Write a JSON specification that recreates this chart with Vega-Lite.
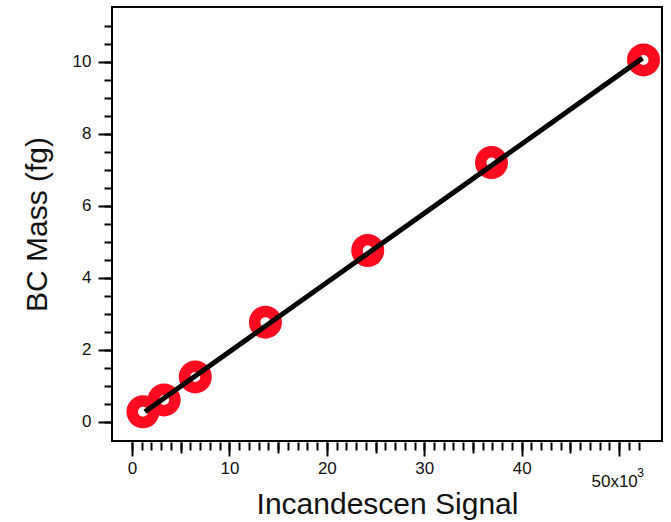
{
  "$schema": "https://vega.github.io/schema/vega-lite/v6.json",
  "width": 550,
  "height": 434,
  "autosize": "none",
  "padding": {"left": 112, "top": 7, "right": 9, "bottom": 81},
  "background": "white",
  "config": {
    "view": {"stroke": "black", "strokeWidth": 2},
    "font": "Liberation Sans",
    "axis": {
      "grid": false,
      "domain": false,
      "tickColor": "black",
      "tickWidth": 2,
      "labelColor": "#111111",
      "labelFont": "Liberation Sans",
      "labelFontSize": 17,
      "titleFont": "Liberation Sans",
      "titleFontSize": 30,
      "titleFontWeight": "normal",
      "titleColor": "#111111"
    }
  },
  "datasets": {
    "points": [
      {"signal": 1130, "mass": 0.28},
      {"signal": 3300, "mass": 0.61},
      {"signal": 6500, "mass": 1.25},
      {"signal": 13700, "mass": 2.77},
      {"signal": 24200, "mass": 4.76},
      {"signal": 36900, "mass": 7.2},
      {"signal": 52500, "mass": 10.05}
    ],
    "fit": [
      {"signal": 1330, "mass": 0.28},
      {"signal": 52400, "mass": 10.1}
    ]
  },
  "resolve": {"axis": {"x": "independent", "y": "independent"}},
  "layer": [
    {
      "data": {"name": "points"},
      "mark": {"type": "point", "shape": "circle", "size": 462, "strokeWidth": 11.5, "color": "#ff0a1e", "filled": false, "opacity": 1},
      "encoding": {
        "x": {
          "field": "signal", "type": "quantitative",
          "scale": {"domain": [-2050, 54400], "nice": false, "zero": false},
          "axis": {
            "orient": "bottom",
            "title": "Incandescen Signal",
            "values": [0, 10000, 20000, 30000, 40000],
            "labelExpr": "format(datum.value / 1000, 'd')",
            "tickSize": 14,
            "offset": 1,
            "labelPadding": 4,
            "titlePadding": 13
          }
        },
        "y": {
          "field": "mass", "type": "quantitative",
          "scale": {"domain": [-0.53, 11.52], "nice": false, "zero": false},
          "axis": {
            "orient": "left",
            "title": "BC Mass (fg)",
            "values": [0, 2, 4, 6, 8, 10],
            "tickSize": 14,
            "labelPadding": 7,
            "titlePadding": 20
          }
        }
      }
    },
    {
      "data": {"name": "fit"},
      "mark": {"type": "line", "color": "black", "strokeWidth": 5, "strokeCap": "butt"},
      "encoding": {
        "x": {
          "field": "signal", "type": "quantitative",
          "axis": {
            "orient": "bottom",
            "title": null,
            "labels": false,
            "values": [5000, 15000, 25000, 35000, 45000],
            "tickSize": 11,
            "offset": 1
          }
        },
        "y": {
          "field": "mass", "type": "quantitative",
          "axis": {
            "orient": "left",
            "title": null,
            "labels": false,
            "values": [0, 0.5, 1, 1.5, 2, 2.5, 3, 3.5, 4, 4.5, 5, 5.5, 6, 6.5, 7, 7.5, 8, 8.5, 9, 9.5, 10, 10.5, 11],
            "tickSize": 8
          }
        }
      }
    },
    {
      "data": {"name": "fit"},
      "mark": {"type": "point", "opacity": 0},
      "encoding": {
        "x": {
          "field": "signal", "type": "quantitative",
          "axis": {
            "orient": "bottom",
            "title": null,
            "labels": false,
            "values": [0, 1000, 2000, 3000, 4000, 5000, 6000, 7000, 8000, 9000, 10000, 11000, 12000, 13000, 14000, 15000, 16000, 17000, 18000, 19000, 20000, 21000, 22000, 23000, 24000, 25000, 26000, 27000, 28000, 29000, 30000, 31000, 32000, 33000, 34000, 35000, 36000, 37000, 38000, 39000, 40000, 41000, 42000, 43000, 44000, 45000, 46000, 47000, 48000, 49000, 50000, 51000, 52000],
            "tickSize": 8,
            "offset": 1
          }
        },
        "y": {"field": "mass", "type": "quantitative", "axis": null}
      }
    },
    {
      "data": {"name": "fit"},
      "mark": {"type": "point", "opacity": 0},
      "encoding": {
        "x": {
          "field": "signal", "type": "quantitative",
          "axis": {
            "orient": "bottom",
            "title": null,
            "values": [50000],
            "labelExpr": "'50x10'",
            "tickSize": 14,
            "offset": 1,
            "labelPadding": 17,
            "labelOffset": -5
          }
        },
        "y": {"field": "mass", "type": "quantitative", "axis": null}
      }
    },
    {
      "data": {"name": "fit"},
      "mark": {"type": "point", "opacity": 0},
      "encoding": {
        "x": {
          "field": "signal", "type": "quantitative",
          "axis": {
            "orient": "bottom",
            "title": null,
            "values": [50000],
            "labelExpr": "'3'",
            "labelFontSize": 12,
            "ticks": false,
            "offset": 1,
            "labelPadding": 25,
            "labelOffset": 21
          }
        },
        "y": {"field": "mass", "type": "quantitative", "axis": null}
      }
    }
  ]
}
